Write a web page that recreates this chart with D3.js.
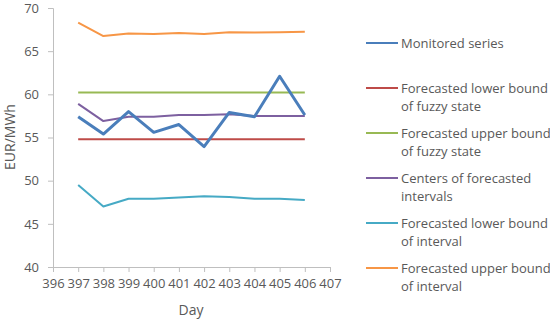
<!DOCTYPE html>
<html>
<head>
<meta charset="utf-8">
<script src="https://cdn.jsdelivr.net/npm/d3@7"></script>
<style>
  body { margin: 0; background: #fff; }
  text { font-family: "Open Sans", sans-serif; fill: #595959; }
</style>
</head>
<body>
<svg id="chart" width="550" height="320"></svg>
<script>
// data
var days = [397, 398, 399, 400, 401, 402, 403, 404, 405, 406];
var monitored = [57.4, 55.4, 58.0, 55.6, 56.5, 53.95, 57.9, 57.4, 62.1, 57.6];
var lowerFuzzy = [54.8, 54.8, 54.8, 54.8, 54.8, 54.8, 54.8, 54.8, 54.8, 54.8];
var upperFuzzy = [60.2, 60.2, 60.2, 60.2, 60.2, 60.2, 60.2, 60.2, 60.2, 60.2];
var centers = [58.9, 56.9, 57.4, 57.4, 57.6, 57.6, 57.7, 57.5, 57.5, 57.5];
var lowerInterval = [49.5, 47.0, 47.9, 47.9, 48.05, 48.2, 48.1, 47.9, 47.9, 47.75];
var upperInterval = [68.3, 66.75, 67.05, 67.0, 67.1, 67.0, 67.2, 67.15, 67.2, 67.25];
var xTicks = d3.range(396, 408);
var yTicks = [40, 45, 50, 55, 60, 65, 70];

var series = [
    { name: ["Monitored series"], values: monitored, color: "#4a7ebb", width: 3 },
    { name: ["Forecasted lower bound", "of fuzzy state"], values: lowerFuzzy, color: "#be4b48", width: 2 },
    { name: ["Forecasted upper bound", "of fuzzy state"], values: upperFuzzy, color: "#98b954", width: 2 },
    { name: ["Centers of forecasted", "intervals"], values: centers, color: "#7d60a0", width: 2 },
    { name: ["Forecasted lower bound", "of interval"], values: lowerInterval, color: "#46aac5", width: 2 },
    { name: ["Forecasted upper bound", "of interval"], values: upperInterval, color: "#f79646", width: 2 }
];

var svg = d3.select("#chart");
var plotLeft = 53, plotRight = 330, plotTop = 8, plotBottom = 267;

var x = d3.scaleLinear().domain([396, 407]).range([plotLeft, plotRight]);
var y = d3.scaleLinear().domain([40, 70]).range([plotBottom, plotTop]);

// axes
var xAxis = svg.append("g")
    .attr("transform", "translate(0," + plotBottom + ")")
    .call(d3.axisBottom(x).tickValues(xTicks).tickFormat(d3.format("d")).tickSize(5).tickPadding(7));
var yAxis = svg.append("g")
    .attr("transform", "translate(" + plotLeft + ",0)")
    .call(d3.axisLeft(y).tickValues(yTicks).tickSize(5).tickPadding(9));

[xAxis, yAxis].forEach(function(ax) {
    ax.select(".domain").attr("stroke", "#bfbfbf");
    ax.selectAll(".tick line").attr("stroke", "#bfbfbf");
    ax.selectAll(".tick text").attr("fill", "#595959").style("font-size", "13px").style("font-family", "'Open Sans', sans-serif");
});

// axis titles
svg.append("text")
    .attr("transform", "translate(15,137) rotate(-90)")
    .attr("text-anchor", "middle")
    .style("font-size", "14px")
    .text("EUR/MWh");
svg.append("text")
    .attr("x", 191).attr("y", 315)
    .attr("text-anchor", "middle")
    .style("font-size", "14px")
    .text("Day");

// lines
var line = d3.line()
    .x(function(d, i) { return x(days[i]); })
    .y(function(d) { return y(d); });

// draw in reverse so the monitored series sits on top
series.slice().reverse().forEach(function(s) {
    svg.append("path")
        .datum(s.values)
        .attr("fill", "none")
        .attr("stroke", s.color)
        .attr("stroke-width", s.width)
        .attr("stroke-linejoin", "round")
        .attr("d", line);
});

// legend
var legend = svg.append("g");
series.forEach(function(s, i) {
    var ly = 43 + i * 45;
    legend.append("line")
        .attr("x1", 366).attr("x2", 398)
        .attr("y1", ly).attr("y2", ly)
        .attr("stroke", s.color)
        .attr("stroke-width", 2);
    var t = legend.append("text")
        .attr("x", 401).attr("y", ly + 4.5)
        .style("font-size", "13px");
    s.name.forEach(function(part, j) {
        t.append("tspan").attr("x", 401).attr("dy", j ? 18 : 0).text(part);
    });
});
</script>
</body>
</html>
